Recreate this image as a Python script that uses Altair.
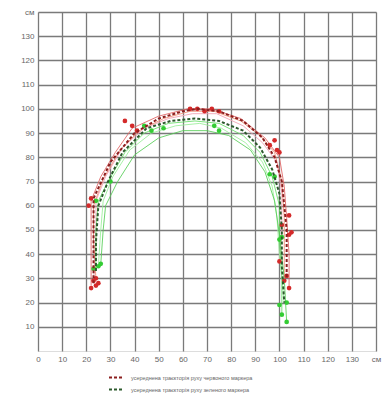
import altair as alt
import pandas as pd

# Individual trial trajectories (x, y in cm)
red_trials = {
    "r1": [(22,27),(22,45),(22,62),(26,72),(32,82),(39,92),(50,97),(62,100),(72,100),(84,96),(94,88),(100,80),(102,68),(103,55),(104,40),(104,26)],
    "r2": [(24,30),(23,45),(23,60),(27,71),(34,83),(42,91),(52,96),(63,99),(73,99),(84,95),(92,89),(98,82),(101,70),(102,55),(102,40),(102,29)],
    "r3": [(23,28),(24,45),(24,62),(28,72),(35,84),(44,92),(54,96),(64,98),(74,98),(85,93),(93,86),(99,78),(101,65),(101,50),(100,37)],
}
green_trials = {
    "g1": [(24,34),(24,50),(25,62),(29,70),(36,82),(44,90),(54,94),(65,95),(75,94),(85,89),(92,82),(97,72),(100,60),(100,46),(101,30),(101,15)],
    "g2": [(25,35),(26,50),(27,62),(31,72),(38,83),(47,90),(57,93),(67,94),(76,92),(86,86),(93,78),(97,68),(99,55),(100,40),(102,20)],
    "g3": [(26,36),(27,50),(28,60),(33,70),(40,81),(50,88),(60,91),(70,91),(79,89),(88,83),(94,74),(98,62),(100,48),(102,30),(103,12)],
}
# Marker dots
red_dots = [(21,60),(22,63),(22,26),(23,29),(24,30),(25,28),(24,27),(36,95),(39,93),(41,91),
            (63,100),(66,100),(69,99),(72,100),(75,99),(96,85),(98,87),(99,83),(100,82),
            (104,56),(105,49),(101,52),(104,48),(100,37),(103,31),(104,26),(102,29)]
green_dots = [(24,62),(25,35),(26,36),(23,34),(30,70),(44,93),(47,91),(52,92),(73,93),(75,91),
              (96,73),(98,72),(100,46),(101,47),(103,20),(101,15),(103,12),(100,19)]
# Averaged trajectories
red_mean = [(23,28),(23,45),(23,63),(30,78),(40,90),(50,96),(60,99),(66,100),(75,99),(85,95),
            (93,88),(98,80),(101,70),(102,60),(103,50),(103,40),(103,30)]
green_mean = [(24,33),(24,45),(25,60),(29,70),(35,82),(45,92),(55,95),(65,96),(75,95),(85,91),
              (92,84),(97,75),(100,65),(101,50),(101,35),(102,20)]

legend_labels = ["усереднена траєкторія руху червоного маркера",
                 "усереднена траєкторія руху зеленого маркера"]

rows = []
for name, pts in list(red_trials.items()) + list(green_trials.items()):
    for i, (x, y) in enumerate(pts):
        rows.append({"trial": name, "x": x, "y": y, "o": i})
trials = pd.DataFrame(rows)

red_df = pd.DataFrame(red_dots, columns=["x", "y"])
green_df = pd.DataFrame(green_dots, columns=["x", "y"])

mrows = []
for i, (x, y) in enumerate(red_mean):
    mrows.append({"s": legend_labels[0], "x": x, "y": y, "o": i})
for i, (x, y) in enumerate(green_mean):
    mrows.append({"s": legend_labels[1], "x": x, "y": y, "o": i})
means = pd.DataFrame(mrows)

xs = alt.Scale(domain=[0, 140], nice=False)
ys = alt.Scale(domain=[0, 140], nice=False)
ticks = list(range(0, 150, 10))

xaxis = alt.Axis(values=ticks, grid=True, gridColor="#7a7a7a", gridWidth=1.3, tickSize=0,
                 domain=False, labelFontSize=8, labelColor="#666", labelPadding=4,
                 labelOverlap=False, labelFlush=False,
                 labelExpr="datum.value == 140 ? 'см' : datum.label", title=None)
yaxis = alt.Axis(values=ticks[1:], grid=True, gridColor="#7a7a7a", gridWidth=1.3, tickSize=0,
                 domain=False, labelFontSize=8, labelColor="#666", labelPadding=4,
                 labelOverlap=False, labelFlush=False,
                 labelExpr="datum.value == 140 ? 'см' : datum.label", title=None)

trial_colors = {"r1": "#e06060", "r2": "#f08a70", "r3": "#f0a0b0",
                "g1": "#66dd66", "g2": "#99ee99", "g3": "#55cc55"}

X = alt.X("x:Q", scale=xs, axis=xaxis)
Y = alt.Y("y:Q", scale=ys, axis=yaxis)

base = alt.Chart(trials).mark_line(strokeWidth=1, opacity=0.85).encode(
    x=X, y=Y,
    order="o:Q",
    detail="trial:N",
    color=alt.Color("trial:N", scale=alt.Scale(domain=list(trial_colors.keys()),
                                               range=list(trial_colors.values())), legend=None),
)

reddots = alt.Chart(red_df).mark_circle(size=22, opacity=1, color="#d42a2a").encode(x=X, y=Y)
greendots = alt.Chart(green_df).mark_circle(size=22, opacity=1, color="#33cc33").encode(x=X, y=Y)

meanlayer = alt.Chart(means).mark_line(strokeWidth=2, strokeDash=[3, 2]).encode(
    x=X, y=Y,
    order="o:Q",
    color=alt.Color("s:N", scale=alt.Scale(domain=legend_labels, range=["#8b1e1e", "#2d5a2d"]),
                    sort=legend_labels,
                    legend=alt.Legend(orient="none", legendX=70, legendY=358, title=None,
                                      padding=0, offset=0,
                                      symbolType="stroke", symbolDash=[3, 2], symbolStrokeWidth=2,
                                      symbolSize=169, labelFontSize=5.5, labelColor="#666",
                                      rowPadding=-1, labelOffset=8, labelLimit=300)),
)

chart = alt.layer(base, reddots, greendots, meanlayer).resolve_scale(color="independent").properties(
    width=338, height=339,
    padding={"left": 38, "top": 12, "right": 13, "bottom": 45},
    autosize=alt.AutoSizeParams(type="none"),
).configure_view(stroke="#888", strokeWidth=1.3).configure_axis(
    labelOverlap=False
).configure(background="white")

chart.save("out.html", embed_options={"renderer": "svg", "actions": False})
